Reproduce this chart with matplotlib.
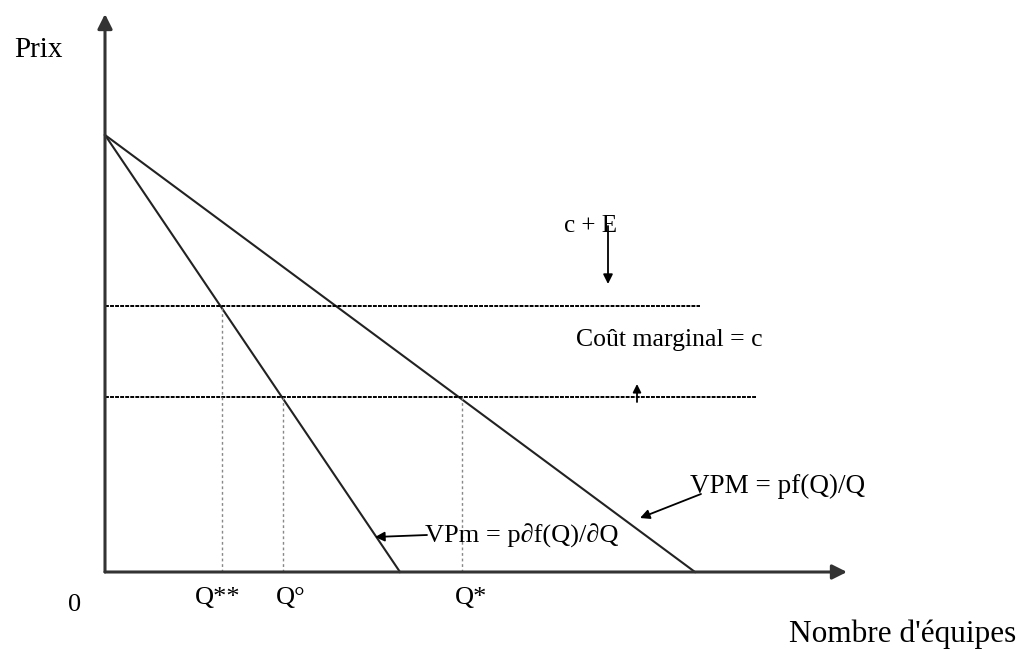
import matplotlib.pyplot as plt

plt.rcParams['font.family'] = ['Liberation Serif', 'DejaVu Serif']

# price intercept shared by both curves, and where each curve hits the Q axis
p_max = 437
q_end_vpm_marg = 295   # VPm = p df(Q)/dQ
q_end_vpm_moy = 590    # VPM = pf(Q)/Q

# cost levels
cost_levels = [266, 175]          # c + E, c
cost_ends = [595, 652]            # how far each horizontal line goes
cost_names = ['c + E', 'c']

# equilibrium quantities
q_labels = ['Q**', 'Q\u00b0', 'Q*']
q_values = [117, 178, 357]
q_prices = [266, 175, 175]
q_label_shift = [-27, -7, -7]


def curve(q_end):
    return [0, q_end], [p_max, 0]


fig = plt.figure(figsize=(10.23, 6.49), dpi=100)
ax = fig.add_axes([0, 0, 1, 1])
ax.set_xlim(-105, 918)
ax.set_ylim(-77, 572)
ax.axis('off')

# axes with arrows
ax.annotate('', xy=(0, 558), xytext=(0, 0),
            arrowprops=dict(arrowstyle='-|>', color='#333333', lw=2.2,
                            mutation_scale=22, shrinkA=0, shrinkB=0))
ax.annotate('', xy=(742, 0), xytext=(0, 0),
            arrowprops=dict(arrowstyle='-|>', color='#333333', lw=2.2,
                            mutation_scale=22, shrinkA=0, shrinkB=0))

# demand-like curves
x, y = curve(q_end_vpm_marg)
ax.plot(x, y, color='#222222', lw=1.5)
x, y = curve(q_end_vpm_moy)
ax.plot(x, y, color='#222222', lw=1.5)

# cost lines
for lvl, end in zip(cost_levels, cost_ends):
    ax.plot([0, end], [lvl, lvl], color='black', lw=1.4, linestyle=(0, (2, 0.6)))

# dotted drop lines and Q labels
for lab, q, p, dx in zip(q_labels, q_values, q_prices, q_label_shift):
    ax.plot([q, q], [0, p], color='#888888', lw=1, linestyle=(0, (2, 2)))
    ax.text(q + dx, -26, lab, ha='left', va='center', fontsize=19)

ax.text(-30, -33, '0', ha='center', va='center', fontsize=19)
ax.text(-67, 522, 'Prix', ha='center', va='center', fontsize=21)
ax.text(798, -62, "Nombre d'\u00e9quipes", ha='center', va='center', fontsize=22.5)

# c + E label with arrow pushing down
ax.text(485, 346, 'c + E', ha='center', va='center', fontsize=18)
ax.annotate('', xy=(503, 288), xytext=(503, 346),
            arrowprops=dict(arrowstyle='-|>', color='black', lw=1.3,
                            mutation_scale=14, shrinkA=0, shrinkB=0))

ax.text(564, 232, 'Co\u00fbt marginal = c', ha='center', va='center', fontsize=18.5)
ax.annotate('', xy=(532, 188), xytext=(532, 170),
            arrowprops=dict(arrowstyle='-|>', color='black', lw=1.3,
                            mutation_scale=12, shrinkA=0, shrinkB=0))

# curve labels
ax.text(320, 36, 'VPm = p\u2202f(Q)/\u2202Q', ha='left', va='center', fontsize=19)
ax.annotate('', xy=(270, 35), xytext=(322, 37),
            arrowprops=dict(arrowstyle='-|>', color='black', lw=1.3,
                            mutation_scale=14, shrinkA=0, shrinkB=0))

ax.text(585, 86, 'VPM = pf(Q)/Q', ha='left', va='center', fontsize=19.5)
ax.annotate('', xy=(535, 54), xytext=(596, 78),
            arrowprops=dict(arrowstyle='-|>', color='black', lw=1.3,
                            mutation_scale=14, shrinkA=0, shrinkB=0))

fig.savefig('out.png', dpi=100)
